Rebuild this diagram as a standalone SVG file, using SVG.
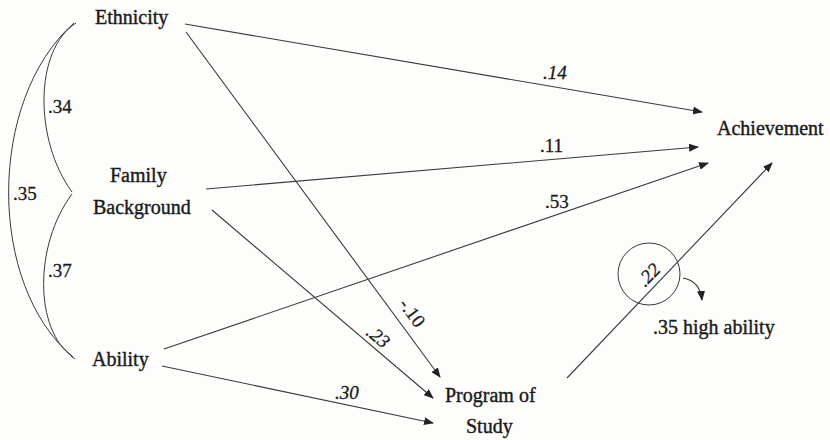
<svg xmlns="http://www.w3.org/2000/svg" width="830" height="440" viewBox="0 0 830 440">
<style>
.bg{fill:#fdfdfc}
text{font-family:'Liberation Serif',Tinos,'Times New Roman',Times,'DejaVu Serif','Noto Serif',serif}
.node{font-size:20px;fill:#1a1a1a;stroke:#1a1a1a;stroke-width:0.4}
.lbl{font-size:19px;fill:#1a1a1a;stroke:#1a1a1a;stroke-width:0.3}
.it{font-style:italic}
.edge{fill:none;stroke:#3a3a3a;stroke-width:1.1}
.arc{fill:none;stroke:#3a3a3a;stroke-width:1}
</style>
<defs>
<marker id="ah" markerWidth="10" markerHeight="8" refX="9" refY="4" orient="auto" markerUnits="userSpaceOnUse">
<path d="M0,0 L10,4 L0,8 Z" fill="#222"/>
</marker>
</defs>
<rect class="bg" x="0" y="0" width="830" height="440"/>
<g id="connectors">
<line class="edge" x1="185" y1="24" x2="702" y2="112" marker-end="url(#ah)"/>
<line class="edge" x1="186" y1="32" x2="440" y2="377" marker-end="url(#ah)"/>
<line class="edge" x1="206" y1="189" x2="698" y2="147" marker-end="url(#ah)"/>
<line class="edge" x1="212" y1="210" x2="433" y2="398" marker-end="url(#ah)"/>
<line class="edge" x1="164" y1="349" x2="708" y2="163" marker-end="url(#ah)"/>
<line class="edge" x1="162" y1="366" x2="433" y2="423" marker-end="url(#ah)"/>
<line class="edge" x1="567" y1="378" x2="772" y2="163" marker-end="url(#ah)"/>
<path class="arc" d="M76,23 C34,50 34,140 72,192"/>
<path class="arc" d="M72,194 C34,245 34,330 73,357"/>
<path class="arc" d="M74,23 C-13,100 -13,285 73,357"/>
<path class="arc" d="M71,356 L75,359"/>
<circle class="arc" cx="649" cy="274" r="31"/>
<path class="edge" d="M683,278 Q700,281 702,300" marker-end="url(#ah)"/>
</g>
<g id="ethnicity"><text class="node" x="95" y="24">Ethnicity</text></g>
<g id="family-background"><text class="node" x="110" y="182">Family</text><text class="node" x="93" y="214">Background</text></g>
<g id="ability"><text class="node" x="92" y="366">Ability</text></g>
<g id="achievement"><text class="node" x="717" y="135">Achievement</text></g>
<g id="program-of-study"><text class="node" x="445" y="402">Program of</text><text class="node" x="466" y="433">Study</text></g>
<g id="high-ability"><text class="node" x="653" y="334">.35 high ability</text></g>
<g id="labels">
<text class="lbl" x="48" y="113">.34</text>
<text class="lbl" x="13" y="200">.35</text>
<text class="lbl" x="48" y="277">.37</text>
<text class="lbl it" x="543" y="79">.14</text>
<text class="lbl" x="540" y="152">.11</text>
<text class="lbl" x="545" y="208">.53</text>
<text class="lbl it" x="335" y="399">.30</text>
<text class="lbl" text-anchor="middle" transform="translate(412,313) rotate(54)" y="6">-.10</text>
<text class="lbl it" text-anchor="middle" transform="translate(378,337) rotate(40)" y="6">.23</text>
<text class="lbl it" text-anchor="middle" transform="translate(649,275) rotate(-46)" y="6">.22</text>
</g>
</svg>
